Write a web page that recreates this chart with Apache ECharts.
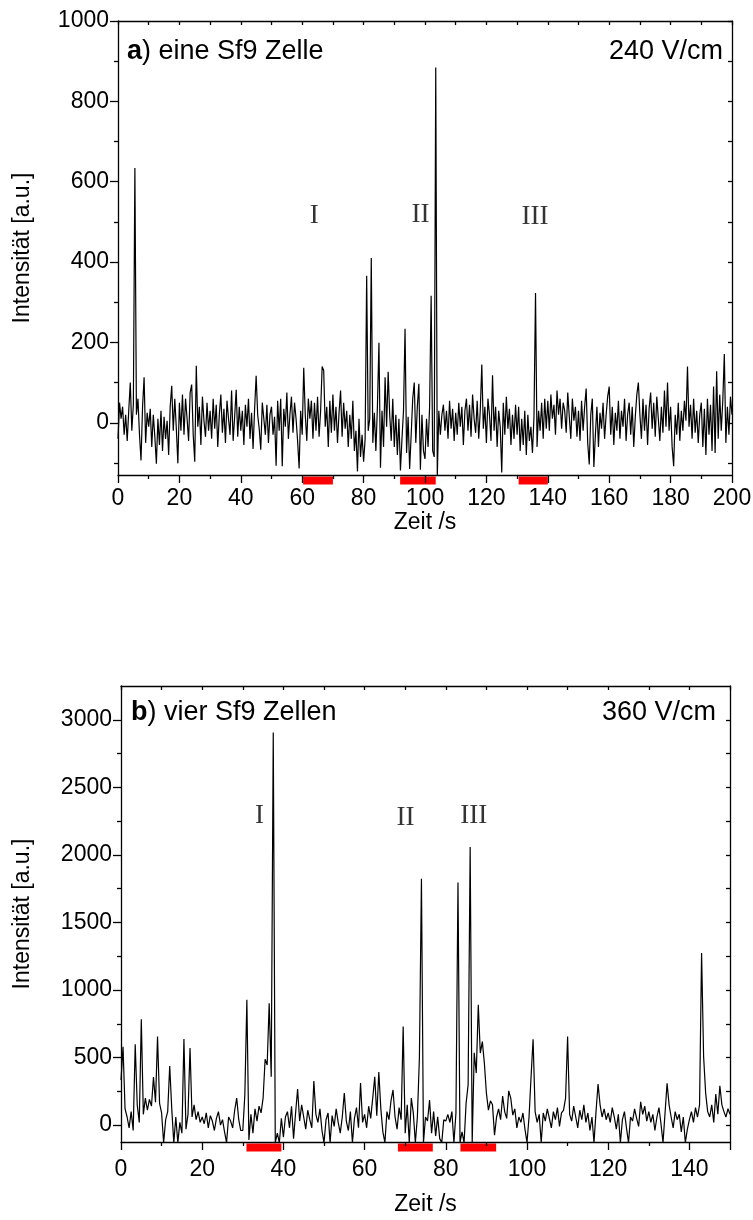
<!DOCTYPE html>
<html>
<head>
<meta charset="utf-8">
<script src="https://cdn.jsdelivr.net/npm/echarts@6/dist/echarts.min.js"></script>
<style>
html,body{margin:0;padding:0;background:#fff;}
#chart{width:753px;height:1220px;}
</style>
</head>
<body>
<div id="chart"></div>
<script>
// ---------- DATA ----------
// Panel a: one Sf9 cell, 240 V/cm; samples every 0.5 s, one row per 10 s
const topStep = 0.5;
const topSegments = [
  [-40,50,10,40,-30,20,-45,30,100,-20,45,634,20,60,-30,-94,40,113,-50,25],
  [-10,35,-60,20,-35,-102,10,-55,30,-70,15,-40,5,-80,40,92,-20,60,-15,-101],
  [50,-20,70,-30,60,10,-45,75,95,-30,-97,142,-10,40,-55,65,5,-35,50,-20],
  [30,-40,60,-15,45,-60,20,70,-25,35,-50,55,10,-30,80,-45,15,82,-35,40],
  [-20,30,-55,45,-10,60,-40,25,-65,35,117,20,-15,-67,50,10,-30,45,-50,20],
  [40,-30,15,-107,55,-20,60,-108,35,-10,75,-40,20,65,-25,50,10,-45,-114,30],
  [-30,137,20,-45,60,10,55,-40,50,-20,65,-35,30,140,130,-10,40,-60,55,-25],
  [70,-20,40,-50,25,80,-35,50,-15,30,-60,20,-40,55,-70,-20,-121,10,-85,-30],
  [-97,-40,366,-20,10,410,-50,25,-70,40,199,-112,30,-60,113,-10,127,20,-45,60],
  [-60,20,-80,10,-119,-40,30,234,-75,15,-115,-30,60,100,-50,40,97,-117,20,-70],
  [-90,10,-60,40,316,-70,-85,884,-135,30,-30,20,45,-20,30,-40,55,-15,35,-45],
  [25,-30,50,-10,40,-55,30,60,-20,45,-35,70,10,-25,55,-40,30,145,-15,40],
  [-50,60,20,-45,118,-20,40,-60,30,-10,-124,50,-30,65,-15,35,-55,20,-40,45],
  [-30,40,-70,10,-55,30,-80,20,-45,-10,-75,15,323,-60,30,-20,50,-40,60,-15],
  [55,-20,70,10,45,-30,80,20,60,-15,50,30,-25,75,15,-40,60,5,40,-35],
  [30,-45,55,-20,40,85,-50,-104,20,60,-110,-30,40,-60,25,-15,50,-40,20,65],
  [90,-30,40,-55,25,-20,55,-40,30,-10,60,-45,20,50,-30,40,-60,15,70,100],
  [20,-40,60,-20,45,-55,35,75,-15,50,-35,65,10,-45,40,-25,80,-10,100,-20],
  [40,-60,-108,20,-30,50,-45,30,-20,55,5,140,-10,45,-40,60,-25,30,-50,20],
  [50,-60,35,-80,60,-30,45,-70,90,-75,128,-40,70,-20,55,171,-50,40,-30,65,20]
];
// Panel b: four Sf9 cells, 360 V/cm; samples every 0.5 s, one row per 10 s
const botStep = 0.5;
const botSegments = [
  [333,580,120,60,-20,100,-40,598,150,20,783,80,200,110,190,140,355,170,655,160],
  [90,-130,40,100,437,120,-130,60,-130,20,-60,637,-30,80,570,60,150,40,100,20],
  [60,10,90,-20,70,30,-40,50,100,0,40,-50,-130,60,30,-20,110,200,40,-40],
  [-40,222,927,-110,80,-60,120,30,140,90,200,487,445,902,358,2906,-130,-60,-130,50],
  [-90,60,100,-20,140,-100,90,267,30,150,60,-30,110,40,-20,326,80,20,120,-40],
  [-130,40,90,-130,70,-10,120,20,-60,60,237,30,-40,100,-130,50,130,-20,311,20],
  [80,-20,140,50,200,358,70,393,120,-50,-130,100,40,180,260,60,-30,130,40,729],
  [-60,150,-130,200,90,-130,60,500,1824,-130,60,30,185,-60,100,-80,62,-100,-130,40],
  [30,80,20,100,-130,90,1796,-130,-50,-130,163,300,2058,-130,536,385,890,533,618,459],
  [237,111,180,150,-74,60,120,40,215,100,50,254,200,74,120,-20,60,20,90,-30],
  [-130,60,358,635,100,20,80,-130,90,30,120,50,-20,100,40,130,-10,90,111,200],
  [655,80,30,140,60,-20,110,40,150,20,90,-40,60,-130,100,304,150,60,120,40],
  [90,20,130,60,-30,80,-130,40,100,-20,-130,60,30,120,50,-10,173,80,140,30],
  [100,20,80,-40,60,130,10,-130,90,309,150,60,-20,100,40,80,-50,60,-130,-30],
  [40,100,20,130,60,150,1273,507,237,100,60,150,20,230,80,291,150,100,60,121,80]
];
// highlighted time windows (red bars under the time axis) [start, end] in s
const topWindows = [[60.3,70],[91.9,103.5],[130.5,140]];
const botWindows = [[30.9,39.5],[68.2,76.8],[83.6,92.4]];
// peak group labels [t, intensity, text]
const topPeakLabels = [[63.9,515,'I'],[98.5,517,'II'],[135.8,512,'III']];
const botPeakLabels = [[34.1,2290,'I'],[70.1,2275,'II'],[86.9,2290,'III']];
// axis ranges and tick values
const topX = {min:0,max:200,major:20,minor:10};
const botX = {min:0,max:150,major:20,minor:10};
const topXLabels = [0,20,40,60,80,100,120,140,160,180,200];
const botXLabels = [0,20,40,60,80,100,120,140];
const topYRange = [-130,1000];
const botYRange = [-125,3250];
const topYMajor = [0,200,400,600,800,1000];
const topYMinor = [-100,100,300,500,700,900];
const topYRight = [-100,0,100,200,300,400,500,600,700,800,900,1000];
const botYMajor = [0,500,1000,1500,2000,2500,3000];
const botYMinor = [250,750,1250,1750,2250,2750];
const botYRight = [0,250,500,750,1000,1250,1500,1750,2000,2250,2500,2750,3000];

// ---------- BUILD ----------
function toPoints(segs, step){
  const out=[];
  segs.forEach((seg,k)=>seg.forEach((v,j)=>out.push([k*10 + j*step, v])));
  return out;
}
const FONT = "'Liberation Sans', Arial, sans-serif";
const AX = {color:'#000', width:1.3};
const plain = v => String(v);

function xAxesFor(gi, r, labels, nameGap, labelMargin){
  return [
    {type:'value', gridIndex:gi, position:'bottom', min:r.min, max:r.max, interval:r.major, z:5,
     name:'Zeit /s', nameLocation:'middle', nameGap:nameGap,
     nameTextStyle:{fontFamily:FONT,fontSize:23,color:'#000'},
     axisLine:{show:true,onZero:false,lineStyle:AX},
     axisTick:{show:true,inside:false,length:8,lineStyle:AX},
     minorTick:{show:true,splitNumber:2,length:4,lineStyle:AX},
     axisLabel:{show:true,margin:labelMargin,fontFamily:FONT,fontSize:23,color:'#000',
       customValues:labels, formatter:plain},
     splitLine:{show:false}, minorSplitLine:{show:false}},
    {type:'value', gridIndex:gi, position:'top', min:r.min, max:r.max, interval:r.minor, z:5,
     axisLine:{show:true,onZero:false,lineStyle:AX},
     axisTick:{show:true,inside:true,length:4,lineStyle:AX},
     axisLabel:{show:false}, splitLine:{show:false}}
  ];
}
function yAxesFor(gi, range, major, minor, right, nameGap){
  return [
    {type:'value', gridIndex:gi, position:'left', min:range[0], max:range[1], z:5,
     name:'Intensität [a.u.]', nameLocation:'middle', nameGap:nameGap,
     nameTextStyle:{fontFamily:FONT,fontSize:23,color:'#000'},
     axisLine:{show:true,onZero:false,lineStyle:AX},
     axisTick:{show:true,inside:false,length:8,lineStyle:AX,customValues:major},
     axisLabel:{show:true,margin:9,fontFamily:FONT,fontSize:23,color:'#000',
       customValues:major, formatter:plain},
     splitLine:{show:false}},
    {type:'value', gridIndex:gi, position:'left', min:range[0], max:range[1], z:5,
     axisLine:{show:false},
     axisTick:{show:true,inside:false,length:4,lineStyle:AX,customValues:minor},
     axisLabel:{show:false}, splitLine:{show:false}},
    {type:'value', gridIndex:gi, position:'right', min:range[0], max:range[1], z:5,
     axisLine:{show:true,onZero:false,lineStyle:AX},
     axisTick:{show:true,inside:true,length:4,lineStyle:AX,customValues:right},
     axisLabel:{show:false}, splitLine:{show:false}}
  ];
}
function windowSeries(xi, yi, windows, yMin){
  return {
    type:'custom', xAxisIndex:xi, yAxisIndex:yi, clip:false, silent:true, z:1,
    data:windows, encode:{x:[0,1]},
    renderItem:function(params, api){
      const s = api.coord([api.value(0), yMin]);
      const e = api.coord([api.value(1), yMin]);
      return {type:'rect', shape:{x:s[0], y:s[1]+1.5, width:e[0]-s[0], height:8}, style:{fill:'#ff0000'}};
    }
  };
}
function labelSeries(xi, yi, labels){
  return {
    type:'scatter', xAxisIndex:xi, yAxisIndex:yi, symbolSize:0, silent:true, z:6,
    data:labels,
    label:{show:true, position:'inside', formatter:p=>p.value[2],
      fontFamily:"'Liberation Serif', 'Times New Roman', serif", fontSize:27, color:'#000'}
  };
}

const option = {
  backgroundColor:'#fff',
  animation:false,
  grid:[
    {left:118, top:21, width:614, height:454, outerBoundsMode:'none'},
    {left:121, top:686, width:609, height:456, outerBoundsMode:'none'}
  ],
  xAxis:[].concat(xAxesFor(0, topX, topXLabels, 34, 12), xAxesFor(1, botX, botXLabels, 51, 16)),
  yAxis:[].concat(yAxesFor(0, topYRange, topYMajor, topYMinor, topYRight, 84),
                  yAxesFor(1, botYRange, botYMajor, botYMinor, botYRight, 87)),
  series:[
    {type:'line', xAxisIndex:0, yAxisIndex:0, data:toPoints(topSegments, topStep),
     showSymbol:false, symbol:'none', lineStyle:{color:'#000', width:1.2}, z:3},
    windowSeries(0, 0, topWindows, topYRange[0]),
    labelSeries(0, 0, topPeakLabels),
    {type:'line', xAxisIndex:2, yAxisIndex:3, data:toPoints(botSegments, botStep),
     showSymbol:false, symbol:'none', lineStyle:{color:'#000', width:1.2}, z:3},
    windowSeries(2, 3, botWindows, botYRange[0]),
    labelSeries(2, 3, botPeakLabels)
  ],
  graphic:[
    {type:'text', left:127, top:38, style:{text:'{b|a}) eine Sf9 Zelle',
      font:"27px 'Liberation Sans', Arial, sans-serif", fill:'#000',
      rich:{b:{fontWeight:'bold', fontSize:27, fontFamily:FONT}}}},
    {type:'text', right:30, top:38, style:{text:'240 V/cm',
      font:"27px 'Liberation Sans', Arial, sans-serif", fill:'#000'}},
    {type:'text', left:131, top:699, style:{text:'{b|b}) vier Sf9 Zellen',
      font:"27px 'Liberation Sans', Arial, sans-serif", fill:'#000',
      rich:{b:{fontWeight:'bold', fontSize:27, fontFamily:FONT}}}},
    {type:'text', right:37, top:699, style:{text:'360 V/cm',
      font:"27px 'Liberation Sans', Arial, sans-serif", fill:'#000'}}
  ]
};
const chart = echarts.init(document.getElementById('chart'), null, {renderer:'canvas'});
chart.setOption(option);
</script>
</body>
</html>
